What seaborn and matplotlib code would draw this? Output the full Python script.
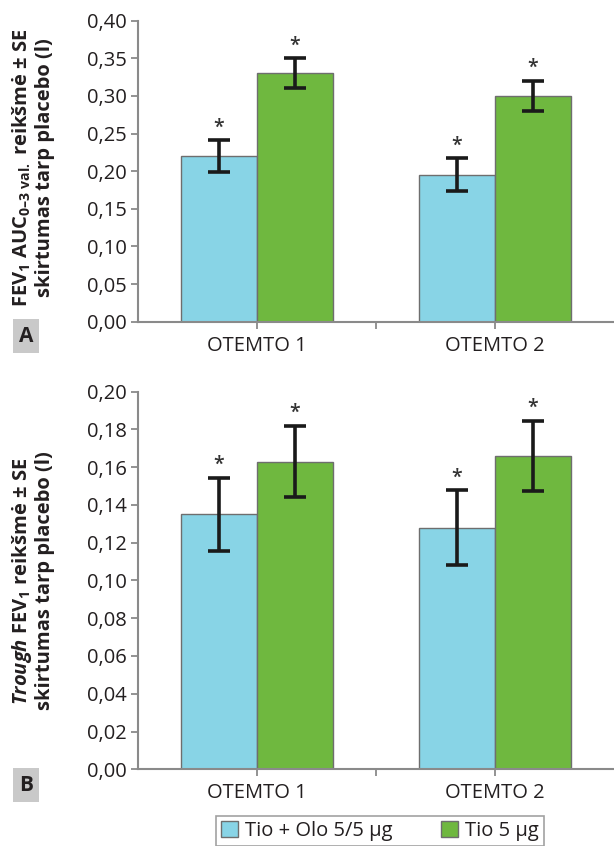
import matplotlib
matplotlib.use("Agg")
import matplotlib.pyplot as plt
import matplotlib.patches as mpatches
import seaborn as sns
import pandas as pd

# duomenys (nuskaityta nuo paveikslo)
visits = ["OTEMTO 1", "OTEMTO 2"]
treatments = ["Tio + Olo 5/5 μg", "Tio 5 μg"]

auc_combo = [0.220, 0.195]
auc_combo_se = [0.021, 0.022]
auc_tio = [0.330, 0.300]
auc_tio_se = [0.020, 0.020]

trough_combo = [0.135, 0.128]
trough_combo_se = [0.0195, 0.0197]
trough_tio = [0.163, 0.166]
trough_tio_se = [0.019, 0.0185]

colors = ["#88d4e6", "#6fb83f"]
edge = "#6e6e6e"
spine = "#8a8a8a"
txt = "#231f20"

sns.set_style("ticks")
plt.rcParams["font.family"] = ["Open Sans", "DejaVu Sans"]
plt.rcParams["mathtext.fontset"] = "custom"
plt.rcParams["mathtext.rm"] = "Open Sans:bold"
plt.rcParams["mathtext.bf"] = "Open Sans:bold"
plt.rcParams["mathtext.it"] = "Open Sans:italic:bold"


def make_df(combo, tio):
    rows = []
    for i, v in enumerate(visits):
        rows.append({"visit": v, "treatment": treatments[0], "value": combo[i]})
        rows.append({"visit": v, "treatment": treatments[1], "value": tio[i]})
    return pd.DataFrame(rows)


def draw_panel(ax, combo, combo_se, tio, tio_se, ymax, step, fmt):
    df = make_df(combo, tio)
    sns.barplot(data=df, x="visit", y="value", hue="treatment", hue_order=treatments,
                palette=colors, saturation=1, width=0.64, errorbar=None, edgecolor=edge,
                linewidth=1.0, legend=False, ax=ax)
    for cont, vals, ses in zip(ax.containers, [combo, tio], [combo_se, tio_se]):
        for bar, v, s in zip(cont, vals, ses):
            xc = bar.get_x() + bar.get_width() / 2
            ax.errorbar(xc, v, yerr=s, fmt="none", ecolor="#1a1a1a", elinewidth=2.6,
                        capsize=8, capthick=2.6, zorder=5)
            ax.annotate("*", (xc, v + s), xytext=(0, 2), textcoords="offset points",
                        ha="center", va="bottom", fontsize=14, color="#333333",
                        fontweight="semibold")
    ax.set_xlim(-0.5, 1.5)
    ax.set_ylim(0, ymax)
    ticks = [i * step for i in range(int(round(ymax / step)) + 1)]
    ax.set_yticks(ticks)
    ax.set_yticklabels([fmt.format(t).replace(".", ",") for t in ticks])
    ax.set_xticks([0, 1])
    ax.set_xticks([0.5], minor=True)
    ax.set_xlabel("")
    ax.set_ylabel("")
    sns.despine(ax=ax)
    for sp in ["left", "bottom"]:
        ax.spines[sp].set_color(spine)
        ax.spines[sp].set_linewidth(1.5)
    ax.tick_params(axis="both", which="both", color=spine, width=1.3, length=5,
                   labelsize=14.5, labelcolor=txt, pad=3)
    ax.tick_params(axis="x", pad=5)


fig = plt.figure(figsize=(6.14, 8.46), dpi=100)
ax1 = fig.add_axes([0.2248, 0.6198, 0.7752, 0.3558])
ax2 = fig.add_axes([0.2248, 0.0907, 0.7752, 0.4463])

draw_panel(ax1, auc_combo, auc_combo_se, auc_tio, auc_tio_se, 0.40, 0.05, "{:.2f}")
draw_panel(ax2, trough_combo, trough_combo_se, trough_tio, trough_tio_se, 0.20, 0.02, "{:.2f}")

# y asies pavadinimai
fs_lab = 14.5
c1 = 1 - 168 / 846
fig.text(22 / 614, c1, "FEV$_1$ AUC$_{0\u20133\\ \\mathrm{val.}}$ reikšmė ± SE", rotation=90,
         ha="center", va="center", fontsize=fs_lab, fontweight="bold", color=txt)
fig.text(45 / 614, c1, "skirtumas tarp placebo (l)", rotation=90,
         ha="center", va="center", fontsize=fs_lab, fontweight="bold", color=txt)
c2 = 1 - 581 / 846
fig.text(22 / 614, c2, "$\\mathit{Trough}$ FEV$_1$ reikšmė ± SE", rotation=90,
         ha="center", va="center", fontsize=fs_lab, fontweight="bold", color=txt)
fig.text(45 / 614, c2, "skirtumas tarp placebo (l)", rotation=90,
         ha="center", va="center", fontsize=fs_lab, fontweight="bold", color=txt)

# A / B žymės
for lab, yc in [("A", 336), ("B", 785)]:
    fig.text(26 / 614, 1 - yc / 846, lab, ha="center", va="center", fontsize=15,
             fontweight="bold", color=txt,
             bbox=dict(boxstyle="square,pad=0.3", facecolor="#c9c9c9", edgecolor="none"))

# legenda
handles = [mpatches.Patch(facecolor=c, edgecolor=edge, linewidth=1.0) for c in colors]
leg = fig.legend(handles, treatments, loc="center", bbox_to_anchor=(380 / 614, 1 - 831 / 846),
                 ncol=2, fontsize=14.5, frameon=True, fancybox=False, handlelength=0.85,
                 handleheight=0.85, handletextpad=0.35, columnspacing=2.4, borderpad=0.25,
                 borderaxespad=0)
leg.get_frame().set_edgecolor(spine)
leg.get_frame().set_linewidth(1.2)
for t in leg.get_texts():
    t.set_color(txt)

fig.savefig("out.png", dpi=100)
